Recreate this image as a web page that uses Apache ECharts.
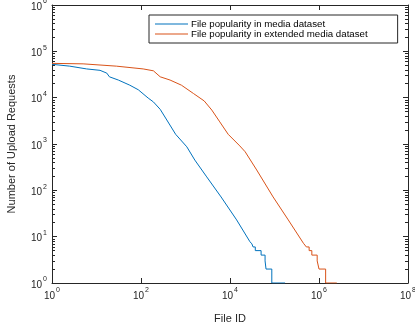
<!DOCTYPE html>
<html>
<head>
<meta charset="utf-8">
<script src="https://cdn.jsdelivr.net/npm/echarts@6/dist/echarts.min.js"></script>
<style>
html,body{margin:0;padding:0;background:#fff;}
#c{width:415px;height:323px;}
</style>
</head>
<body>
<div id="c"></div>
<script>
// ---- data ----
const seriesNames = ['File popularity in media dataset', 'File popularity in extended media dataset'];
const blueX = [1, 2.5, 6, 12, 17, 19.5, 31, 56, 87, 145, 190, 270, 380, 600, 1070, 1620, 3000, 6300, 14100, 28000, 31000, 33000, 37000, 37000, 50000, 50000, 61400, 61400, 64500, 64500, 87000, 87000, 173000];
const blueY = [52500, 47900, 41700, 38900, 33900, 28200, 24000, 18600, 14800, 9800, 8100, 5600, 3300, 1620, 870, 450, 195, 72, 23, 7.8, 7, 6, 6, 5, 5, 4, 4, 3, 3, 2, 2, 1, 1];
const orangeX = [1, 5, 28, 112, 190, 270, 450, 810, 1510, 2630, 3900, 5900, 9100, 16600, 21900, 39800, 93000, 204000, 447000, 520000, 600000, 600000, 690000, 690000, 910000, 910000, 1000000, 1000000, 1410000, 1410000, 2510000];
const orangeY = [55000, 53700, 47900, 41700, 38000, 28200, 24000, 18600, 12300, 8500, 5400, 3000, 1620, 910, 680, 275, 72, 23, 7.2, 6, 6, 5, 5, 4, 4, 3, 3, 2, 2, 1, 1];
const xMajorTicks = [1, 1e2, 1e4, 1e6, 1e8];
const yMajorTicks = [1, 1e1, 1e2, 1e3, 1e4, 1e5, 1e6];
const yMinorTicks = [];
for (let e = 0; e < 6; e++) for (let m = 2; m <= 9; m++) yMinorTicks.push(m * Math.pow(10, e));

const AX = '#262626';
const FONT = 'Liberation Sans';
function zip(a, b) { return a.map((v, i) => [v, b[i]]); }
function supFmt(v) {
  const e = Math.round(Math.log10(v));
  return '{b|10}{s|' + e + '}';
}
const rich = {
  b: { fontSize: 10, fontFamily: FONT, color: AX, lineHeight: 14, verticalAlign: 'bottom' },
  s: { fontSize: 7, fontFamily: FONT, color: AX, lineHeight: 7, verticalAlign: 'top', padding: [0, 0, 0, 1] }
};

const chart = echarts.init(document.getElementById('c'));
const baseX = {
  type: 'log', logBase: 10, min: 1, max: 1e8,
  splitLine: { show: false },
  axisLine: { show: true, lineStyle: { color: AX, width: 1 } },
  axisTick: { show: true, inside: true, length: 5, customValues: xMajorTicks, lineStyle: { color: AX } },
  axisLabel: { show: false }
};
const baseY = {
  type: 'log', logBase: 10, min: 1, max: 1e6,
  splitLine: { show: false },
  axisLine: { show: true, lineStyle: { color: AX, width: 1 } },
  axisTick: { show: true, inside: true, length: 5, customValues: yMajorTicks, lineStyle: { color: AX } },
  axisLabel: { show: false }
};
const minorY = {
  type: 'log', logBase: 10, min: 1, max: 1e6,
  splitLine: { show: false },
  axisLine: { show: false },
  axisTick: { show: true, inside: true, length: 3, customValues: yMinorTicks, lineStyle: { color: AX } },
  axisLabel: { show: false }
};

chart.setOption({
  animation: false,
  backgroundColor: '#fff',
  grid: { left: 52, right: 7, top: 5, bottom: 40, containLabel: false, outerBoundsMode: 'none' },
  legend: {
    orient: 'vertical', left: 149, top: 15,
    padding: [4, 30, 4, 6], itemGap: 0,
    itemWidth: 33, itemHeight: 10,
    borderColor: AX, borderWidth: 1, backgroundColor: '#fff',
    textStyle: { fontFamily: FONT, fontSize: 9.7, color: '#000', lineHeight: 10, padding: [0, 0, 0, -2] },
    data: seriesNames.map(n => ({ name: n, icon: 'path://M0,0 L33,0 L33,1.2 L0,1.2 Z' }))
  },
  xAxis: [
    Object.assign({}, baseX, {
      position: 'bottom',
      name: 'File ID', nameLocation: 'middle', nameGap: 30,
      nameTextStyle: { fontFamily: FONT, fontSize: 11, color: AX },
      axisLabel: { show: true, customValues: xMajorTicks, formatter: supFmt, rich: rich, margin: 4, showMinLabel: true, showMaxLabel: true }
    }),
    Object.assign({}, baseX, { position: 'top' })
  ],
  yAxis: [
    Object.assign({}, baseY, {
      position: 'left',
      name: 'Number of Upload Requests', nameLocation: 'middle', nameGap: 35,
      nameTextStyle: { fontFamily: FONT, fontSize: 11, color: AX },
      axisLabel: { show: true, customValues: yMajorTicks, formatter: supFmt, rich: rich, margin: 5, showMinLabel: true, showMaxLabel: true }
    }),
    Object.assign({}, minorY, { position: 'left' }),
    Object.assign({}, baseY, { position: 'right' }),
    Object.assign({}, minorY, { position: 'right' })
  ],
  series: [
    {
      name: seriesNames[0], type: 'line', xAxisIndex: 0, yAxisIndex: 0,
      symbol: 'none', data: zip(blueX, blueY),
      lineStyle: { color: '#0072BD', width: 1 }, itemStyle: { color: '#0072BD' }
    },
    {
      name: seriesNames[1], type: 'line', xAxisIndex: 0, yAxisIndex: 0,
      symbol: 'none', data: zip(orangeX, orangeY),
      lineStyle: { color: '#D95319', width: 1 }, itemStyle: { color: '#D95319' }
    }
  ]
});
</script>
</body>
</html>
